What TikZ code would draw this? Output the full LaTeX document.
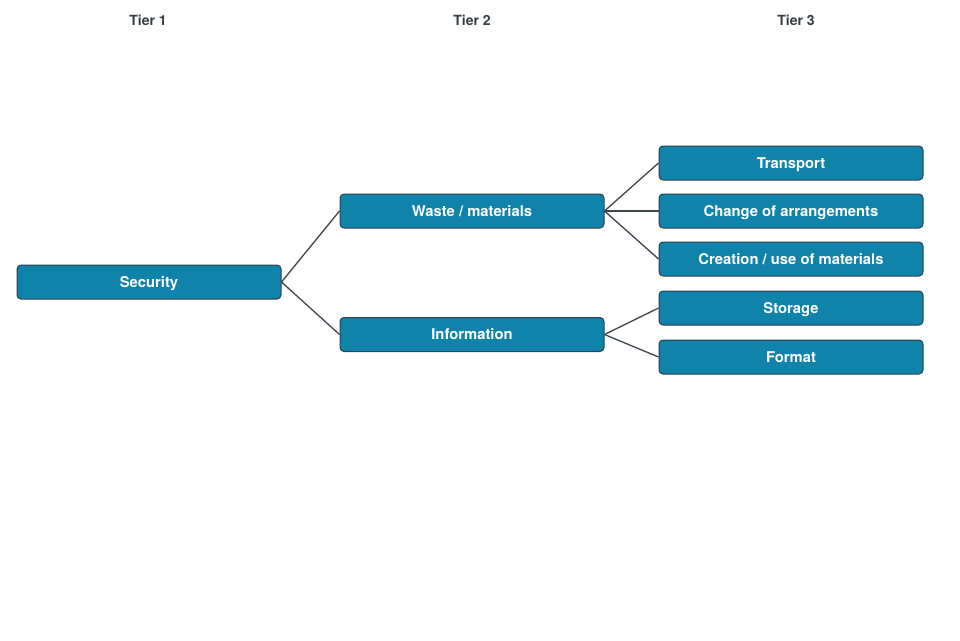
\documentclass[tikz,border=0pt]{standalone}
\usepackage{fontspec}
\setmainfont{TeX Gyre Heros}
\definecolor{boxfill}{HTML}{1083AA}
\definecolor{boxline}{HTML}{2E3E4A}
\definecolor{linec}{HTML}{3A4550}
\definecolor{headc}{HTML}{353D45}
\begin{document}
\begin{tikzpicture}[x=1pt,y=-1pt,
  item/.style={draw=boxline, line width=1pt, fill=boxfill, rounded corners=4pt,
    minimum width=264pt, minimum height=34pt, inner sep=0pt,
    text height=13.4pt, text depth=3pt,
    text=white, font=\bfseries\fontsize{14.8}{16}\selectfont},
  head/.style={text=headc, font=\bfseries\fontsize{14}{16}\selectfont},
  link/.style={draw=linec, line width=1.3pt}]
\useasboundingbox (0,0) rectangle (960,640);
\node[head] (h1) at (148,20) {Tier 1};
\node[head] (h2) at (472,20) {Tier 2};
\node[head] (h3) at (796,20) {Tier 3};
\node[item] (sec) at (149,282) {Security};
\node[item] (waste) at (472,211) {Waste / materials};
\node[item] (info) at (472,334.5) {Information};
\node[item] (trans) at (791,163) {Transport};
\node[item] (change) at (791,211) {Change of arrangements};
\node[item] (creat) at (791,259) {Creation / use of materials};
\node[item] (stor) at (791,308) {Storage};
\node[item] (form) at (791,357) {Format};
\draw[link] (sec.east) -- (waste.west);
\draw[link] (sec.east) -- (info.west);
\draw[link] (waste.east) -- (trans.west);
\draw[link] (waste.east) -- (change.west);
\draw[link] (waste.east) -- (creat.west);
\draw[link] (info.east) -- (stor.west);
\draw[link] (info.east) -- (form.west);
\end{tikzpicture}
\end{document}
